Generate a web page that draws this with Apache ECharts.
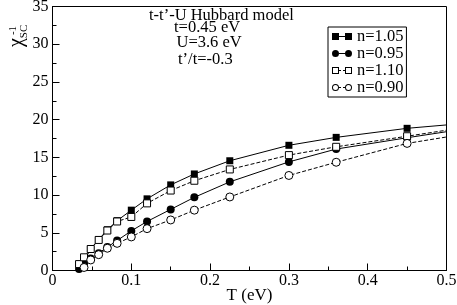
<!DOCTYPE html>
<html>
<head>
<meta charset="utf-8">
<script src="https://cdn.jsdelivr.net/npm/echarts@6/dist/echarts.min.js"></script>
<style>html,body{margin:0;padding:0;background:#fff}#c{width:457px;height:305px}</style>
</head>
<body>
<div id="c"></div>
<script>
// Data
const T      = [0.0337, 0.0400, 0.0485, 0.0586, 0.0696, 0.0820, 0.100, 0.120, 0.150, 0.180, 0.225, 0.300, 0.360, 0.450, 0.500];
const n105   = [null,   1.2,    2.9,    4.1,    5.4,    6.6,    8.0,   9.5,   11.35, 12.8,  14.55, 16.6,  17.65, 18.85, 19.3];
const n095   = [0.2,    0.9,    1.6,    2.3,    3.1,    3.97,   5.25,  6.5,   8.1,   9.7,   11.75, 14.4,  16.1,  17.6,  18.4];
const n110   = [0.85,   1.75,   2.85,   4.05,   5.3,    6.5,    7.1,   8.9,   10.6,  11.9,  13.4,  15.3,  16.4,  17.8,  18.6];
const n090   = [null,   0.4,    1.4,    2.1,    2.95,   3.6,    4.45,  5.55,  6.7,   8.0,   9.75,  12.6,  14.35, 16.85, 17.7];
const seriesNames = ['n=1.05', 'n=0.95', 'n=1.10', 'n=0.90'];
const xTicks = [0, 0.1, 0.2, 0.3, 0.4, 0.5];
const yTicks = [0, 5, 10, 15, 20, 25, 30, 35];
const notes = ['t-t\u2019-U Hubbard model', 't=0.45 eV', 'U=3.6 eV', 't\u2019/t=-0.3'];

const FONT = '"Liberation Serif","Times New Roman",serif';

function pts(vals) {
  const out = [];
  vals.forEach((v, i) => {
    if (v === null) return;
    const item = { value: [T[i], v] };
    if (i === T.length - 1) item.symbol = 'none';
    out.push(item);
  });
  return out;
}

const icons = {
  fsq: 'path://M0,0H7V7H0Z M7,3H13V4H7Z M13,0H20V7H13Z',
  fci: 'path://M0,3.5A3.5,3.5,0,1,1,7,3.5A3.5,3.5,0,1,1,0,3.5Z M7,3H13V4H7Z M13,3.5A3.5,3.5,0,1,1,20,3.5A3.5,3.5,0,1,1,13,3.5Z',
  osq: 'path://M0,0H7V7H0Z M1,1V6H6V1Z M7,3H9V4H7Z M11,3H13V4H11Z M13,0H20V7H13Z M14,1V6H19V1Z',
  oci: 'path://M0,3.5A3.5,3.5,0,1,1,7,3.5A3.5,3.5,0,1,1,0,3.5Z M1,3.5A2.5,2.5,0,1,0,6,3.5A2.5,2.5,0,1,0,1,3.5Z M7,3H9V4H7Z M11,3H13V4H11Z M13,3.5A3.5,3.5,0,1,1,20,3.5A3.5,3.5,0,1,1,13,3.5Z M14,3.5A2.5,2.5,0,1,0,19,3.5A2.5,2.5,0,1,0,14,3.5Z'
};

const chart = echarts.init(document.getElementById('c'), null, { renderer: 'canvas' });

const noteY = [16, 28.5, 43, 60];
const noteX = [149, 174, 176.5, 178];

chart.setOption({
  animation: false,
  backgroundColor: '#fff',
  grid: { left: 52.5, right: 10.5, top: 6.5, bottom: 34.5, show: true, borderColor: '#000', borderWidth: 1,
    backgroundColor: 'transparent', containLabel: false, outerBoundsMode: 'none' },
  xAxis: {
    type: 'value', min: xTicks[0], max: xTicks[xTicks.length - 1], interval: 0.1,
    name: 'T (eV)', nameLocation: 'middle', nameGap: 17, nameMoveOverlap: false,
    nameTextStyle: { fontFamily: FONT, fontSize: 17, color: '#000' },
    axisLine: { lineStyle: { color: '#000', width: 1 } },
    axisTick: { inside: true, length: 7, lineStyle: { color: '#000' } },
    minorTick: { show: true, splitNumber: 2, length: 4, lineStyle: { color: '#000' } },
    splitLine: { show: false },
    axisLabel: { fontFamily: FONT, fontSize: 16, color: '#000', margin: 2,
      formatter: v => { const t = xTicks.find(x => Math.abs(x - v) < 1e-9); return t === undefined ? '' : String(t); } }
  },
  yAxis: {
    type: 'value', min: yTicks[0], max: yTicks[yTicks.length - 1], interval: 5,
    axisLine: { show: true, lineStyle: { color: '#000', width: 1 } },
    axisTick: { show: true, inside: true, length: 7, lineStyle: { color: '#000' } },
    minorTick: { show: true, splitNumber: 2, length: 4, lineStyle: { color: '#000' } },
    splitLine: { show: false },
    axisLabel: { fontFamily: FONT, fontSize: 16, color: '#000', margin: 4,
      formatter: v => String(v) }
  },
  legend: {
    left: 328, top: 27, orient: 'vertical', selectedMode: false,
    borderColor: '#000', borderWidth: 1, padding: [1, 3, 1, 4],
    itemGap: 0, itemWidth: 20, itemHeight: 7, itemTextGap: 6,
    textStyle: { fontFamily: FONT, fontSize: 16.5, color: '#000', lineHeight: 15 },
    data: [
      { name: seriesNames[0], icon: icons.fsq, itemStyle: { color: '#000', borderWidth: 0 } },
      { name: seriesNames[1], icon: icons.fci, itemStyle: { color: '#000', borderWidth: 0 } },
      { name: seriesNames[2], icon: icons.osq, itemStyle: { color: '#000', borderWidth: 0 } },
      { name: seriesNames[3], icon: icons.oci, itemStyle: { color: '#000', borderWidth: 0 } }
    ]
  },
  graphic: [
    ...notes.map((s, i) => ({
      type: 'text', left: noteX[i], top: noteY[i] - 9, silent: true,
      style: { text: s, font: '16.5px ' + FONT, fill: '#000' }
    })),
    { type: 'text', x: 17, y: 42.5, rotation: Math.PI / 2, silent: true,
      style: { text: '\u03c7', font: '20px ' + FONT, fill: '#000', align: 'center', verticalAlign: 'middle' } },
    { type: 'text', x: 13.5, y: 30.5, rotation: Math.PI / 2, silent: true,
      style: { text: '-1', font: '10px ' + FONT, fill: '#000', align: 'center', verticalAlign: 'middle' } },
    { type: 'text', x: 24, y: 31.5, rotation: Math.PI / 2, silent: true,
      style: { text: 'SC', font: '11px ' + FONT, fill: '#000', align: 'center', verticalAlign: 'middle' } }
  ],
  series: [
    { name: seriesNames[0], type: 'line', data: pts(n105), symbol: 'rect', symbolSize: 7,
      itemStyle: { color: '#000' }, lineStyle: { color: '#000', width: 1 } },
    { name: seriesNames[1], type: 'line', data: pts(n095), symbol: 'circle', symbolSize: 8,
      itemStyle: { color: '#000' }, lineStyle: { color: '#000', width: 1 } },
    { name: seriesNames[2], type: 'line', data: pts(n110), symbol: 'rect', symbolSize: 7,
      itemStyle: { color: '#fff', borderColor: '#000', borderWidth: 1 }, lineStyle: { color: '#000', width: 1, type: [4, 2] } },
    { name: seriesNames[3], type: 'line', data: pts(n090), symbol: 'circle', symbolSize: 8,
      itemStyle: { color: '#fff', borderColor: '#000', borderWidth: 1 }, lineStyle: { color: '#000', width: 1, type: [4, 2] } }
  ]
});
</script>
</body>
</html>
